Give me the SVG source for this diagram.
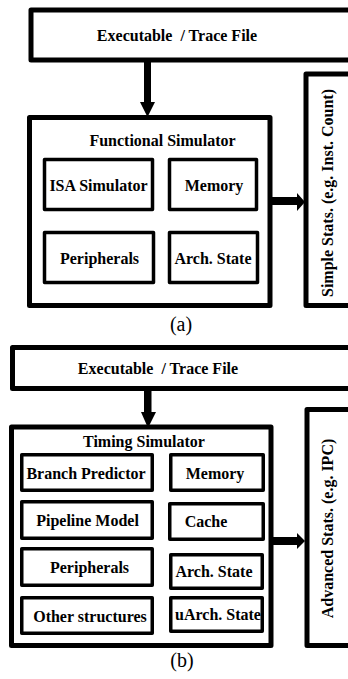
<svg xmlns="http://www.w3.org/2000/svg" width="348" height="679" viewBox="0 0 348 679">
<style>
.outer{fill:#fff;stroke:#000;stroke-width:5;stroke-linejoin:round}
.inner{fill:#fff;stroke:#000;stroke-width:3.5;stroke-linejoin:round}
.t{font-family:"Liberation Serif","Times New Roman",serif;font-weight:bold;font-size:16px;fill:#000;text-anchor:middle;white-space:pre}
.cap{font-family:"Liberation Serif","Times New Roman",serif;font-size:20px;fill:#000;text-anchor:middle}
.arr{fill:#000;stroke:none}
</style>
<rect width="348" height="679" fill="#fff"/>
<!-- (a) -->
<g id="a-input"><rect class="outer" x="31" y="10" width="340" height="50"/><text class="t" x="177" y="41">Executable  / Trace File</text></g>
<g id="a-func">
<rect class="outer" x="29.5" y="117.5" width="240.5" height="188"/>
<text class="t" x="162.5" y="145.5">Functional Simulator</text>
</g>
<g id="a-isa"><rect class="inner" x="44.5" y="159.5" width="108" height="50"/><text class="t" x="98.5" y="191">ISA Simulator</text></g>
<g id="a-mem"><rect class="inner" x="169.5" y="159.5" width="87" height="50"/><text class="t" x="214" y="191">Memory</text></g>
<g id="a-per"><rect class="inner" x="44.5" y="232.5" width="109" height="50"/><text class="t" x="99.5" y="264">Peripherals</text></g>
<g id="a-arch"><rect class="inner" x="169.5" y="232.5" width="88" height="50"/><text class="t" x="213" y="264">Arch. State</text></g>
<g id="a-stats"><rect class="outer" x="306" y="74" width="60" height="231.5"/><text class="t" transform="translate(333,193) rotate(-90)">Simple Stats. (e.g. Inst. Count)</text></g>
<text class="cap" x="181" y="331">(a)</text>
<!-- (b) -->
<g id="b-input"><rect class="outer" x="12.5" y="347.5" width="360" height="41"/><text class="t" x="158" y="374">Executable  / Trace File</text></g>
<g id="b-timing">
<rect class="outer" x="11.5" y="427" width="259.5" height="218.5"/>
<text class="t" x="144" y="447">Timing Simulator</text>
</g>
<g id="b-bp"><rect class="inner" x="21.75" y="454.75" width="130.5" height="35.5"/><text class="t" x="86" y="479">Branch Predictor</text></g>
<g id="b-mem"><rect class="inner" x="170.75" y="454.75" width="92.5" height="35.5"/><text class="t" x="215" y="479">Memory</text></g>
<g id="b-pipe"><rect class="inner" x="21.75" y="501.75" width="130.5" height="36.5"/><text class="t" x="87.5" y="526">Pipeline Model</text></g>
<g id="b-cache"><rect class="inner" x="169.75" y="503.75" width="93.5" height="35.5"/><text class="t" x="206" y="527">Cache</text></g>
<g id="b-per"><rect class="inner" x="21.75" y="548.75" width="130.5" height="36.5"/><text class="t" x="89.5" y="573">Peripherals</text></g>
<g id="b-arch"><rect class="inner" x="170.75" y="554.75" width="91.5" height="33.5"/><text class="t" x="214" y="577">Arch. State</text></g>
<g id="b-other"><rect class="inner" x="21.75" y="597.75" width="130.5" height="35.5"/><text class="t" x="90" y="622">Other structures</text></g>
<g id="b-uarch"><rect class="inner" x="170.75" y="597.75" width="91.5" height="33.5"/><text class="t" x="218" y="620">uArch. State</text></g>
<g id="b-stats"><rect class="outer" x="307" y="409.5" width="60" height="236"/><text class="t" transform="translate(333,528.5) rotate(-90)">Advanced Stats. (e.g. IPC)</text></g>
<text class="cap" x="182" y="667">(b)</text>
<!-- connectors -->
<g id="connectors">
<polygon class="arr" points="144,62 151,62 151,102 155,102 147.5,117 140,102 144,102"/>
<polygon class="arr" points="272,197 297,197 297,193 305,202 297,211 297,205 272,205"/>
<polygon class="arr" points="144,390 151.5,390 151.5,412 156,412 148,428 141,412 144,412"/>
<polygon class="arr" points="273,537 297,537 297,533 305,541 297,549 297,545 273,545"/>
</g>
</svg>
